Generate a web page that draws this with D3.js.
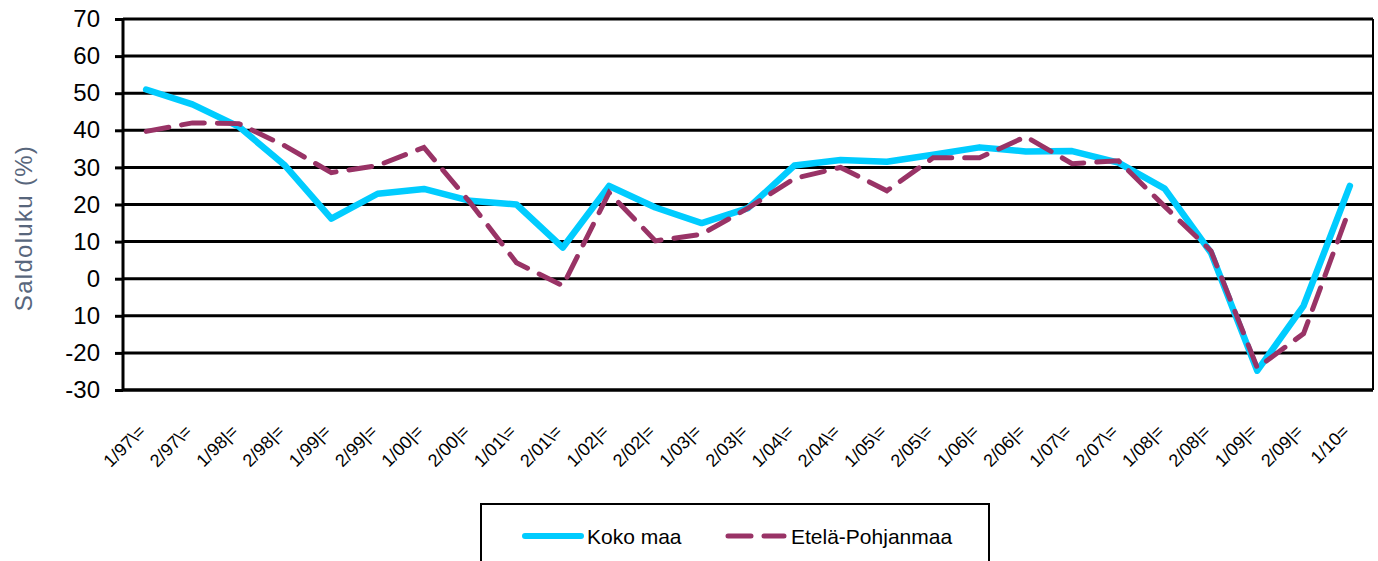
<!DOCTYPE html>
<html>
<head>
<meta charset="utf-8">
<script src="https://cdn.jsdelivr.net/npm/d3@7"></script>
<style>
  body { margin: 0; background: #fff; }
  svg { display: block; font-family: "Liberation Sans", Arial, sans-serif; }
</style>
</head>
<body>
<svg id="chart" width="1378" height="561"></svg>
<script>
// kausi (half-year) labels
var periods = ["1/97\\=", "2/97\\=", "1/98|=", "2/98|=", "1/99|=", "2/99|=", "1/00|=", "2/00|=",
  "1/01\\=", "2/01\\=", "1/02|=", "2/02|=", "1/03|=", "2/03|=", "1/04\\=", "2/04\\=",
  "1/05\\=", "2/05\\=", "1/06|=", "2/06|=", "1/07\\=", "2/07\\=", "1/08|=", "2/08|=",
  "1/09|=", "2/09|=", "1/10="];

var kokoMaa = [51, 47, 41, 30.5, 16.2, 22.9, 24.2, 21, 20, 8.4, 25, 19.2, 15, 19,
  30.5, 32, 31.5, 33.4, 35.4, 34.3, 34.4, 31.3, 24.3, 7, -24.8, -7.3, 25];
var etelaPohjanmaa = [39.7, 42, 41.8, 35.8, 28.6, 30.5, 35.4, 20.5, 4.3, -1.9, 23.2, 10.2, 12, 19,
  27, 30, 23.7, 32.6, 32.6, 38.3, 31, 31.8, 19.5, 7.5, -24, -14.8, 19];

var yTicks = [70, 60, 50, 40, 30, 20, 10, 0, -10, -20, -30];
var yTickLabels = ["70", "60", "50", "40", "30", "20", "10", "0", "10", "-20", "-30"];

var seriesNames = ["Koko maa", "Etelä-Pohjanmaa"];

var plotLeft = 123, plotRight = 1373, plotTop = 19, plotBottom = 390;

var svg = d3.select("#chart");

var x = d3.scaleBand()
    .domain(periods)
    .range([plotLeft, plotRight]);

var y = d3.scaleLinear()
    .domain([-30, 70])
    .range([plotBottom, plotTop]);

// gridlines
svg.append("g")
  .selectAll("line")
  .data(yTicks)
  .enter().append("line")
    .attr("x1", plotLeft)
    .attr("x2", plotRight)
    .attr("y1", d => y(d))
    .attr("y2", d => y(d))
    .attr("stroke", "#000")
    .attr("stroke-width", 3);

// right border
svg.append("line")
  .attr("x1", plotRight).attr("x2", plotRight)
  .attr("y1", plotTop).attr("y2", plotBottom)
  .attr("stroke", "#000").attr("stroke-width", 2);

// y axis
var yAxis = svg.append("g")
  .attr("transform", "translate(" + plotLeft + ",0)")
  .call(d3.axisLeft(y).tickValues(yTicks).tickSize(8).tickPadding(15)
    .tickFormat((d, i) => yTickLabels[i]));
yAxis.select(".domain").attr("stroke-width", 3).attr("d", "M0," + (plotTop - 1) + "V" + (plotBottom + 1));
yAxis.selectAll(".tick line").attr("stroke-width", 3);
yAxis.selectAll(".tick text")
  .attr("font-size", 24)
  .attr("font-family", "Liberation Sans, Arial, sans-serif")
  .attr("fill", "#000");

// x axis line
svg.append("line")
  .attr("x1", plotLeft).attr("x2", plotRight)
  .attr("y1", plotBottom).attr("y2", plotBottom)
  .attr("stroke", "#000").attr("stroke-width", 3);

// x labels
svg.append("g")
  .selectAll("text")
  .data(periods)
  .enter().append("text")
    .attr("transform", d => "translate(" + (x(d) + x.bandwidth() / 2 - 4) + "," + (plotBottom + 38) + ") rotate(-45)")
    .attr("text-anchor", "end")
    .attr("dy", "0.35em")
    .attr("font-size", 18)
    .attr("fill", "#000")
    .text(d => d);

// y title
svg.append("text")
  .attr("transform", "translate(32,228) rotate(-90)")
  .attr("text-anchor", "middle")
  .attr("font-size", 24)
  .attr("letter-spacing", 1.3)
  .attr("fill", "#58667c")
  .text("Saldoluku (%)");

var line = d3.line()
  .x((d, i) => x(periods[i]) + x.bandwidth() / 2)
  .y(d => y(d));

svg.append("path")
  .datum(kokoMaa)
  .attr("d", line)
  .attr("fill", "none")
  .attr("stroke", "#00ccff")
  .attr("stroke-width", 6.5)
  .attr("stroke-linejoin", "round")
  .attr("stroke-linecap", "round");

svg.append("path")
  .datum(etelaPohjanmaa)
  .attr("d", line)
  .attr("fill", "none")
  .attr("stroke", "#993366")
  .attr("stroke-width", 5)
  .attr("stroke-dasharray", "23,13")
  .attr("stroke-linecap", "round");

// legend
var legend = svg.append("g");
legend.append("rect")
  .attr("x", 481).attr("y", 504)
  .attr("width", 508).attr("height", 70)
  .attr("fill", "none")
  .attr("stroke", "#000").attr("stroke-width", 2);

legend.append("line")
  .attr("x1", 525).attr("x2", 581).attr("y1", 536).attr("y2", 536)
  .attr("stroke", "#00ccff").attr("stroke-width", 6).attr("stroke-linecap", "round");
legend.append("text")
  .attr("x", 587).attr("y", 544)
  .attr("font-size", 21)
  .text(seriesNames[0]);

legend.append("line")
  .attr("x1", 728).attr("x2", 784).attr("y1", 536).attr("y2", 536)
  .attr("stroke", "#993366").attr("stroke-width", 5)
  .attr("stroke-dasharray", "23,13").attr("stroke-linecap", "round");
legend.append("text")
  .attr("x", 791).attr("y", 544)
  .attr("font-size", 21)
  .text(seriesNames[1]);
</script>
</body>
</html>
